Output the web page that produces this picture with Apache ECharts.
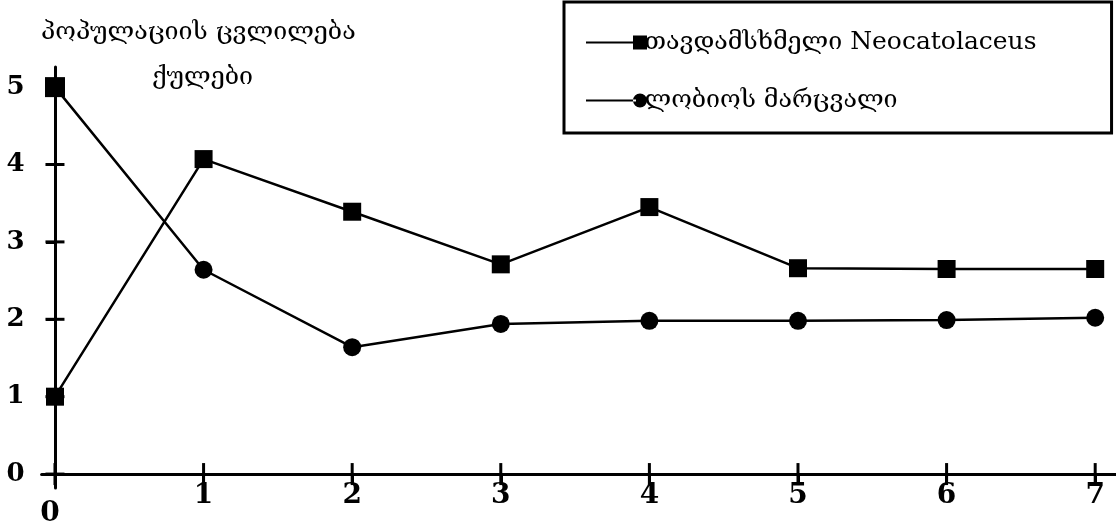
<!DOCTYPE html>
<html>
<head>
<meta charset="utf-8">
<script src="https://cdn.jsdelivr.net/npm/echarts@6/dist/echarts.min.js"></script>
<style>html,body{margin:0;padding:0;background:#fff;}#c{width:1116px;height:528px;}</style>
</head>
<body>
<div id="c"></div>
<script>
const xTicks = [0, 1, 2, 3, 4, 5, 6, 7];
const yTicks = [0, 1, 2, 3, 4, 5];
const predatorName = 'თავდამსხმელი Neocatolaceus';
const beanName = 'ლობიოს მარცვალი';
const predator = [1.00, 4.07, 3.39, 2.71, 3.45, 2.66, 2.65, 2.65];
const bean = [5.00, 2.64, 1.64, 1.94, 1.98, 1.98, 1.99, 2.02];
const titleLine1 = 'პოპულაციის ცვლილება';
const titleLine2 = 'ქულები';

const FONT = '"DejaVu Serif", serif';
const chart = echarts.init(document.getElementById('c'));

const predData = xTicks.map((x, i) => [x, predator[i]]);
const beanData = xTicks.map((x, i) => i === 0 ? { value: [x, bean[i]], symbol: 'rect', symbolSize: 20 } : [x, bean[i]]);

const sqIcon = 'path://M0,9L50,9L50,11L0,11Z M47,3L61,3L61,17L47,17Z';
const ciIcon = 'path://M0,9L50,9L50,11L0,11Z M47,10A7,7 0 1,0 61,10A7,7 0 1,0 47,10Z';

chart.setOption({
  animation: false,
  backgroundColor: '#fff',
  textStyle: { fontFamily: FONT, color: '#000' },
  title: [
    { text: titleLine1, left: 41, top: 20, padding: 0, textStyle: { fontFamily: FONT, fontSize: 25, fontWeight: 'normal', color: '#000' } },
    { text: titleLine2, left: 152, top: 65, padding: 0, textStyle: { fontFamily: FONT, fontSize: 25, fontWeight: 'normal', color: '#000' } }
  ],
  legend: {
    orient: 'vertical',
    left: 564,
    top: 2,
    padding: [28, 75, 20, 22],
    itemGap: 33,
    itemWidth: 62,
    itemHeight: 14,
    borderColor: '#000',
    borderWidth: 3,
    backgroundColor: '#fff',
    textStyle: { fontFamily: FONT, fontSize: 25, color: '#000', padding: [0, 0, 0, -8] },
    data: [
      { name: predatorName, icon: sqIcon },
      { name: beanName, icon: ciIcon }
    ]
  },
  grid: { left: 41.6, right: 0, top: 67, bottom: 40, containLabel: false, outerBoundsMode: 'none' },
  xAxis: {
    type: 'value', min: -0.09, max: 7.14, splitLine: { show: false },
    axisLine: { show: true, onZero: true, lineStyle: { color: '#000', width: 3 } },
    axisTick: { show: true, inside: false, length: 11, customValues: xTicks, lineStyle: { color: '#000', width: 3 } },
    axisLabel: {
      customValues: xTicks, margin: -6, fontFamily: FONT, fontSize: 28, fontWeight: 'bold', color: '#000',
      formatter: v => v === 0 ? '{z|0}' : String(v),
      rich: { z: { fontFamily: FONT, fontSize: 28, fontWeight: 'bold', color: '#000', padding: [18, 10, 0, 0] } }
    }
  },
  yAxis: {
    type: 'value', min: -0.18, max: 5.26, splitLine: { show: false },
    axisLine: { show: true, onZero: true, lineStyle: { color: '#000', width: 3 } },
    axisTick: { show: true, inside: false, length: 9, customValues: yTicks, lineStyle: { color: '#000', width: 3 } },
    axisLabel: { customValues: yTicks, margin: 17, fontFamily: FONT, fontSize: 26, fontWeight: 'bold', color: '#000' }
  },
  series: [
    {
      name: 'xTickCross', type: 'scatter', silent: true, z: 5, clip: false,
      data: xTicks.map(v => [v, 0]), symbol: 'rect', symbolSize: [3, 22],
      itemStyle: { color: '#000', opacity: 1 }
    },
    {
      name: 'yTickCross', type: 'scatter', silent: true, z: 5, clip: false,
      data: yTicks.map(v => [0, v]), symbol: 'rect', symbolSize: [19, 3],
      itemStyle: { color: '#000', opacity: 1 }
    },
    {
      name: predatorName, type: 'line', z: 3,
      data: predData, symbol: 'rect', symbolSize: 18, showAllSymbol: true,
      lineStyle: { color: '#000', width: 2.5 }, itemStyle: { color: '#000' }
    },
    {
      name: beanName, type: 'line', z: 3,
      data: beanData, symbol: 'circle', symbolSize: 18, showAllSymbol: true,
      lineStyle: { color: '#000', width: 2.5 }, itemStyle: { color: '#000' }
    }
  ]
});
</script>
</body>
</html>
